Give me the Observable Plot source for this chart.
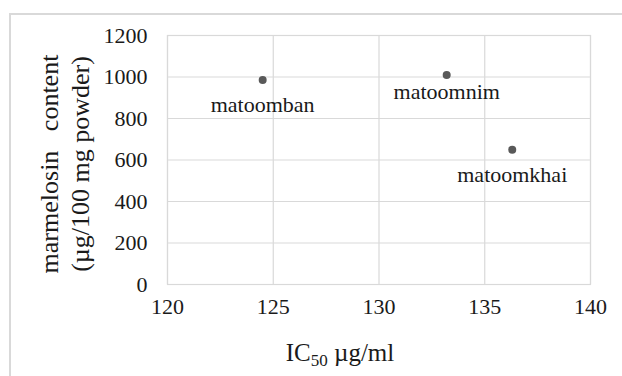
<!DOCTYPE html>
<html><head><meta charset="utf-8">
<script src="https://cdn.jsdelivr.net/npm/d3@7"></script>
<script src="https://cdn.jsdelivr.net/npm/@observablehq/plot@0.6"></script>
<style>
body{margin:0;background:#fff;}
#wrap{position:relative;width:622px;height:376px;overflow:hidden;background:#fff;}
#border{position:absolute;left:9px;top:13px;width:700px;height:500px;border:2px solid #d9d9d9;pointer-events:none;}
#wrap svg{position:absolute;left:0;top:0;}
</style></head><body><div id="wrap"><div id="border"></div></div>
<script>
const names = ["matoomban", "matoomnim", "matoomkhai"];
const ic50 = [124.5, 133.2, 136.3];
const marmelosin = [985, 1010, 650];
const xTicks = [120, 125, 130, 135, 140];
const yTicks = [0, 200, 400, 600, 800, 1000, 1200];
const xTitle = "IC50 µg/ml";
const yTitleLines = ["marmelosin\u00a0\u00a0\u00a0content", "(µg/100 mg powder)"];

const data = names.map((n, i) => ({name: n, x: ic50[i], y: marmelosin[i]}));
const font = "Liberation Serif, Times New Roman, serif";
const ink = "#1a1a1a";
const grid = "#d9d9d9";

const chart = Plot.plot({
  width: 622, height: 376,
  marginLeft: 167, marginRight: 32, marginTop: 35, marginBottom: 92,
  style: {fontFamily: font, fontSize: "22px", color: ink, background: "transparent"},
  x: {domain: [120, 140], ticks: xTicks, label: null, axis: null},
  y: {domain: [0, 1200], ticks: yTicks, label: null, axis: null},
  marks: [
    Plot.gridX(xTicks, {stroke: grid, strokeOpacity: 1, strokeWidth: 1.2}),
    Plot.gridY(yTicks, {stroke: grid, strokeOpacity: 1, strokeWidth: 1.2}),
    Plot.frame({stroke: grid, strokeWidth: 1.2}),
    Plot.text(xTicks, {x: d => d, text: d => String(d), frameAnchor: "bottom", textAnchor: "middle", dy: 29, fontSize: 22, fontFamily: font, fill: ink}),
    Plot.text(yTicks, {y: d => d, text: d => String(d), frameAnchor: "left", textAnchor: "end", dx: -20, fontSize: 22, fontFamily: font, fill: ink}),
    Plot.dot(data, {x: "x", y: "y", r: 4, fill: "#595959", stroke: null}),
    Plot.text(data.filter(d => d.name !== "matoomnim"), {x: "x", y: "y", text: "name", dy: 25, fontSize: 22, fontFamily: font, fill: ink}),
    Plot.text(data.filter(d => d.name === "matoomnim"), {x: "x", y: "y", text: "name", dy: 17, fontSize: 22, fontFamily: font, fill: ink}),
    Plot.text([xTitle], {text: d => d, frameAnchor: "bottom", textAnchor: "middle", dx: -39, dy: 76, fontSize: 25, fontFamily: font, fill: ink}),
    Plot.text([yTitleLines[0]], {text: d => d, frameAnchor: "left", textAnchor: "middle", rotate: -90, dx: -118, dy: 4, fontSize: 26, fontFamily: font, fill: ink}),
    Plot.text([yTitleLines[1]], {text: d => d, frameAnchor: "left", textAnchor: "middle", rotate: -90, dx: -87, dy: 4, fontSize: 26, fontFamily: font, fill: ink})
  ]
});

// subscript for IC50
chart.querySelectorAll("text").forEach(t => {
  if (t.textContent === xTitle) {
    t.textContent = "";
    const ns = "http://www.w3.org/2000/svg";
    const a = document.createElementNS(ns, "tspan"); a.textContent = "IC";
    const b = document.createElementNS(ns, "tspan"); b.textContent = "50";
    b.setAttribute("font-size", "17"); b.setAttribute("dy", "5");
    const c = document.createElementNS(ns, "tspan"); c.textContent = " µg/ml";
    c.setAttribute("dy", "-5");
    t.append(a, b, c);
  }
});

document.getElementById("wrap").appendChild(chart);
</script>
</body></html>
